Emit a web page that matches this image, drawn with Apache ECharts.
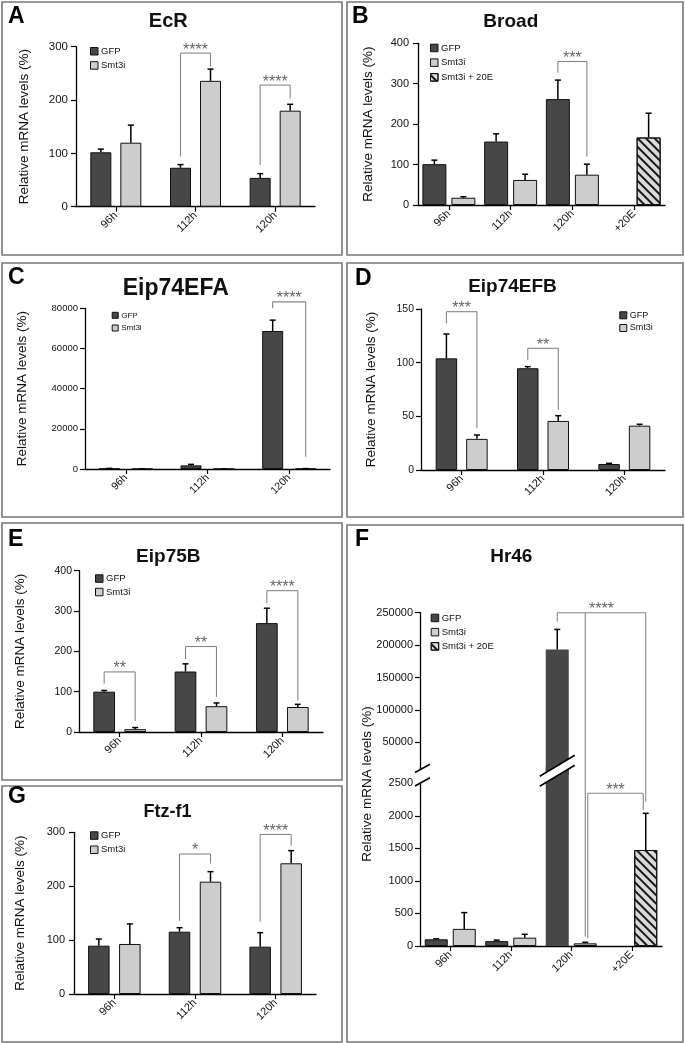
<!DOCTYPE html>
<html><head><meta charset="utf-8">
<script src="https://cdn.jsdelivr.net/npm/echarts@6/dist/echarts.min.js"></script>
<style>html,body{margin:0;padding:0;background:#fff}#c{width:685px;height:1043px}</style>
</head><body><div id="c"></div>
<script>
// ================= DATA =================
const timeCats = ['96h', '112h', '120h'];
const timeCats20E = ['96h', '112h', '120h', '+20E'];

// A  EcR
const ecrTicks = [0, 100, 200, 300];
const ecrGFP = [102, 73, 54];
const ecrGFPErr = [108, 79, 62];
const ecrSmt = [120, 236, 180];
const ecrSmtErr = [153, 258, 192];
const ecrSig = [
  {label: '****', cat: 1, top: 288, legs: [94, 263]},
  {label: '****', cat: 2, top: 228, legs: [78, 203]}
];

// B  Broad
const broadTicks = [0, 100, 200, 300, 400];
const brGFP = [101, 157, 262, null];
const brGFPErr = [111, 176, 309, null];
const brSmt = [18, 62, 75, null];
const brSmtErr = [20.5, 76, 101, null];
const brSmt20E = [null, null, null, 167];
const brSmt20EErr = [null, null, null, 227];
const broadSig = [
  {label: '***', cat: 2, top: 355, legs: [327, 120]}
];

// C  Eip74EFA
const efaTicks = [0, 20000, 40000, 60000, 80000];
const efaGFP = [150, 1800, 68700];
const efaGFPErr = [300, 2300, 74100];
const efaSmt = [60, 50, 120];
const efaSmtErr = [100, 90, 200];
const efaSig = [
  {label: '****', cat: 2, top: 83200, legs: [80000, 6100]}
];

// D  Eip74EFB
const efbTicks = [0, 50, 100, 150];
const efbGFP = [104, 94.8, 5.6];
const efbGFPErr = [126.7, 96.3, 6.2];
const efbSmt = [29, 45.7, 41.3];
const efbSmtErr = [32.6, 50.6, 42.6];
const efbSig = [
  {label: '***', cat: 0, top: 147.5, legs: [136.7, 38.8]},
  {label: '**', cat: 1, top: 113.4, legs: [102.5, 56]}
];

// E  Eip75B
const e75Ticks = [0, 100, 200, 300, 400];
const e75GFP = [100, 150, 270];
const e75GFPErr = [103, 169, 307];
const e75Smt = [7, 64, 62];
const e75SmtErr = [11, 72, 68.6];
const e75Sig = [
  {label: '**', cat: 0, top: 149, legs: [120, 27]},
  {label: '**', cat: 1, top: 212, legs: [181, 87]},
  {label: '****', cat: 2, top: 350.5, legs: [319, 79]}
];

// F  Hr46 (broken axis)
const hrUpperTicks = [50000, 100000, 150000, 200000, 250000];
const hrLowerTicks = [0, 500, 1000, 1500, 2000, 2500];
const hrGFP = [103, 75, 193400, null];
const hrGFPErr = [112, 90, 224200, null];
const hrSmt = [263, 128, 41, null];
const hrSmtErr = [513, 180, 57, null];
const hrSmt20E = [null, null, null, 1475];
const hrSmt20EErr = [null, null, null, 2038];
const hrSig = [
  {label: '****', top: 250000, topAxis: 'up', legs: [
    {cat: 2, slot: 0, to: 236000, axis: 'up'},
    {cat: 2, slot: 1, to: 143, axis: 'lo'},
    {cat: 3, slot: 1, to: 2216, axis: 'lo'}]},
  {label: '***', top: 2346, topAxis: 'lo', legs: [
    {cat: 2, slot: 1, to: 118, axis: 'lo'},
    {cat: 3, slot: 1, to: 2089, axis: 'lo'}]}
];

// G  Ftz-f1
const ftzTicks = [0, 100, 200, 300];
const ftzGFP = [89.6, 115.6, 87.8];
const ftzGFPErr = [102, 123, 113.8];
const ftzSmt = [92.8, 208.4, 242.5];
const ftzSmtErr = [130, 227, 266];
const ftzSig = [
  {label: '*', cat: 1, top: 259.7, legs: [136, 242]},
  {label: '****', cat: 2, top: 296, legs: [134, 275]}
];

const yTitle = 'Relative mRNA levels (%)';

// ================= LAYOUT / STYLE =================
const FONT = "'Liberation Sans', Arial, Helvetica, sans-serif";
const HR_BREAK = 2750; // top of the lower (un-broken) segment of panel F
const FILL = {'GFP': '#474747', 'Smt3i': '#cdcdcd', 'Smt3i + 20E': '#dadada'};
const HATCH = {symbol: 'rect', symbolSize: 1, dashArrayX: [[1, 0]], dashArrayY: [2, 3.5], rotation: Math.PI / 4, color: '#1a1a1a'};
const plainNum = v => String(v);

const LAYOUT = {
  A: {grid: [76, 46.7, 239, 160], bw: 21, gap: 9, nameGap: 45, yFont: 11.5, xFont: 11, yMargin: 8, leg: [90, 50, 11.7], legFont: 9.5, legIcon: 7.5, tFont: 20, tPos: [168.3, 21.5], letter: [8, 16.5], box: [2, 2, 340, 253]},
  B: {grid: [418, 43.3, 247, 161.7], bw: 24, gap: 5, nameGap: 43, yFont: 11, xFont: 11, yMargin: 9, leg: [430, 46.7, 12.2], legFont: 9.5, legIcon: 7.5, tFont: 19, tPos: [510.8, 21.5], letter: [352, 16.5], box: [347, 2, 336, 253]},
  C: {grid: [85, 308.3, 245, 160.7], bw: 21, gap: 12, nameGap: 56, yFont: 9.5, xFont: 10.5, yMargin: 7, leg: [111.7, 314.3, 10.7], legFont: 8, legIcon: 6, tFont: 23, tPos: [175.8, 288.3], letter: [8, 277.5], box: [2, 263, 340, 254]},
  D: {grid: [421, 309, 244, 161], bw: 21.5, gap: 9, nameGap: 42.5, yFont: 10.5, xFont: 11, yMargin: 7, leg: [619.3, 314.3, 10.7], legFont: 9, legIcon: 7, tFont: 19, tPos: [512.5, 286.7], letter: [355, 278.5], box: [347, 263, 336, 254]},
  E: {grid: [79, 570.7, 244, 161.3], bw: 21.7, gap: 9.3, nameGap: 51.5, yFont: 10.5, xFont: 11, yMargin: 7, leg: [95, 577.3, 11], legFont: 9.5, legIcon: 7.5, tFont: 19, tPos: [168.3, 556.7], letter: [8, 540], box: [2, 523, 340, 257]},
  F: {upper: [420, 612.7, 242, 162], lower: [420, 767, 242, 179], bw: 23, gap: 5, yFont: 11, xFont: 11, yMargin: 7, leg: [430.7, 616.7, 11.7], legFont: 9.5, legIcon: 7.5, tFont: 19, tPos: [511.3, 556.7], letter: [355, 540], box: [347, 525, 336, 517], yName: [367, 784]},
  G: {grid: [74, 832.3, 242, 161.7], bw: 21.5, gap: 9.5, nameGap: 46.5, yFont: 11, xFont: 11, yMargin: 9, leg: [90, 834.3, 11.7], legFont: 9.5, legIcon: 7.5, tFont: 18, tPos: [167.5, 812.5], letter: [8, 796.5], box: [2, 786, 340, 256]}
};

const panels = [
  {id: 'A', title: 'EcR', cats: timeCats, ticks: ecrTicks, sig: ecrSig,
   bars: [['GFP', ecrGFP, ecrGFPErr], ['Smt3i', ecrSmt, ecrSmtErr]]},
  {id: 'B', title: 'Broad', cats: timeCats20E, ticks: broadTicks, sig: broadSig,
   bars: [['GFP', brGFP, brGFPErr], ['Smt3i', brSmt, brSmtErr], ['Smt3i + 20E', brSmt20E, brSmt20EErr]]},
  {id: 'C', title: 'Eip74EFA', cats: timeCats, ticks: efaTicks, sig: efaSig,
   bars: [['GFP', efaGFP, efaGFPErr], ['Smt3i', efaSmt, efaSmtErr]]},
  {id: 'D', title: 'Eip74EFB', cats: timeCats, ticks: efbTicks, sig: efbSig,
   bars: [['GFP', efbGFP, efbGFPErr], ['Smt3i', efbSmt, efbSmtErr]]},
  {id: 'E', title: 'Eip75B', cats: timeCats, ticks: e75Ticks, sig: e75Sig,
   bars: [['GFP', e75GFP, e75GFPErr], ['Smt3i', e75Smt, e75SmtErr]]},
  {id: 'F', title: 'Hr46', cats: timeCats20E, sig: hrSig, broken: true,
   bars: [['GFP', hrGFP, hrGFPErr], ['Smt3i', hrSmt, hrSmtErr], ['Smt3i + 20E', hrSmt20E, hrSmt20EErr]]},
  {id: 'G', title: 'Ftz-f1', cats: timeCats, ticks: ftzTicks, sig: ftzSig,
   bars: [['GFP', ftzGFP, ftzGFPErr], ['Smt3i', ftzSmt, ftzSmtErr]]}
];

// ================= BUILD =================
const grids = [], xAxes = [], yAxes = [], series = [], legends = [];
const slotOf = name => name === 'GFP' ? 0 : 1;
const slotOffset = (L, slot) => (slot - 0.5) * (L.bw + L.gap);

function gridCfg(g) {
  return {left: g[0], top: g[1], width: g[2], height: g[3], containLabel: false, outerBoundsMode: 'none'};
}
function xAxisCfg(gi, cats, L, show) {
  return {
    gridIndex: gi, type: 'category', data: cats, show: show, boundaryGap: true,
    axisLine: {show: true, onZero: false, lineStyle: {color: '#000', width: 1.3}},
    axisTick: {show: true, alignWithLabel: true, length: 5, lineStyle: {color: '#000', width: 1.2}},
    axisLabel: {rotate: 45, interval: 0, fontSize: L.xFont, color: '#111', margin: 7, fontFamily: FONT},
    splitLine: {show: false}
  };
}
function yLabel(L, custom) {
  const o = {fontSize: L.yFont, color: '#111', margin: L.yMargin, fontFamily: FONT, formatter: plainNum};
  if (custom) o.customValues = custom;
  return o;
}
function yAxisCfg(gi, L, extra) {
  return Object.assign({
    gridIndex: gi, type: 'value', splitLine: {show: false},
    axisLine: {show: true, lineStyle: {color: '#000', width: 1.3}},
    axisTick: {show: true, length: 5, lineStyle: {color: '#000', width: 1.2}},
    axisLabel: yLabel(L)
  }, extra);
}
function barSeries(gi, name, data, L, stackId) {
  const st = {color: FILL[name], borderColor: '#111', borderWidth: 1};
  if (name === 'Smt3i + 20E') st.decal = HATCH;
  return {
    type: 'bar', name: name, xAxisIndex: gi, yAxisIndex: gi, data: data,
    barWidth: L.bw, barGap: (L.gap / L.bw * 100) + '%',
    stack: slotOf(name) ? stackId : undefined,
    itemStyle: st, emphasis: {disabled: true}, silent: true, clip: true, z: 2
  };
}
function errSeries(gi, vals, errs, L, slot, keep) {
  const data = [];
  vals.forEach((v, i) => {
    if (v != null && errs[i] != null && keep(v)) data.push([i, v, errs[i]]);
  });
  const off = slotOffset(L, slot);
  return {
    type: 'custom', xAxisIndex: gi, yAxisIndex: gi, data: data, silent: true, z: 4, clip: false,
    encode: {x: 0, y: [1, 2]},
    renderItem: function (params, api) {
      const p0 = api.coord([api.value(0), api.value(1)]);
      const p1 = api.coord([api.value(0), api.value(2)]);
      const cx = p0[0] + off;
      const st = {stroke: '#000', lineWidth: 1.5};
      return {type: 'group', children: [
        {type: 'line', shape: {x1: cx, y1: p0[1], x2: cx, y2: p1[1]}, style: st},
        {type: 'line', shape: {x1: cx - 3, y1: p1[1], x2: cx + 3, y2: p1[1]}, style: st}
      ]};
    }
  };
}
function legendCfg(p, L) {
  return {
    data: p.bars.map(b => b[0]), orient: 'vertical', left: L.leg[0], top: L.leg[1] - L.legIcon / 2,
    itemWidth: L.legIcon, itemHeight: L.legIcon, itemGap: L.leg[2] - L.legIcon, padding: 0,
    icon: 'rect', selectedMode: false,
    itemStyle: {borderColor: '#111', borderWidth: 1},
    textStyle: {fontSize: L.legFont, color: '#111', fontFamily: FONT, lineHeight: L.legIcon, padding: [0, 0, 0, -2]}
  };
}

panels.forEach(p => {
  const L = LAYOUT[p.id];
  if (!p.broken) {
    const gi = grids.length;
    p.gi = gi;
    grids.push(gridCfg(L.grid));
    xAxes.push(xAxisCfg(gi, p.cats, L, true));
    yAxes.push(yAxisCfg(gi, L, {
      min: p.ticks[0], max: p.ticks[p.ticks.length - 1], interval: p.ticks[1] - p.ticks[0],
      name: yTitle, nameLocation: 'middle', nameGap: L.nameGap,
      nameTextStyle: {fontSize: 13.5, color: '#111', fontFamily: FONT}
    }));
    p.bars.forEach(([name, vals, errs]) => {
      series.push(barSeries(gi, name, vals, L, 'smt' + p.id));
      series.push(errSeries(gi, vals, errs, L, slotOf(name), () => true));
    });
  } else {
    const gu = grids.length, gl = gu + 1;
    p.giU = gu; p.giL = gl; p.gi = gl;
    grids.push(gridCfg(L.upper));
    grids.push(gridCfg(L.lower));
    xAxes.push(xAxisCfg(gu, p.cats, L, false));
    xAxes.push(xAxisCfg(gl, p.cats, L, true));
    yAxes.push(yAxisCfg(gu, L, {
      min: 0, max: hrUpperTicks[hrUpperTicks.length - 1],
      axisTick: {show: true, length: 5, lineStyle: {color: '#000', width: 1.2}, customValues: hrUpperTicks},
      axisLabel: yLabel(L, hrUpperTicks)
    }));
    yAxes.push(yAxisCfg(gl, L, {
      min: 0, max: HR_BREAK,
      axisTick: {show: true, length: 5, lineStyle: {color: '#000', width: 1.2}, customValues: hrLowerTicks},
      axisLabel: yLabel(L, hrLowerTicks)
    }));
    const isHigh = v => v != null && v > HR_BREAK;
    p.bars.forEach(([name, vals, errs]) => {
      if (name !== 'Smt3i + 20E') {
        const up = vals.map(v => isHigh(v) ? {value: v, itemStyle: {borderWidth: 0}} : null);
        series.push(barSeries(gu, name, up, L, 'smtFu'));
        series.push(errSeries(gu, vals, errs, L, slotOf(name), isHigh));
      }
      const lo = vals.map(v => isHigh(v) ? {value: v, itemStyle: {borderWidth: 0}} : v);
      series.push(barSeries(gl, name, lo, L, 'smtFl'));
      series.push(errSeries(gl, vals, errs, L, slotOf(name), v => !isHigh(v)));
    });
  }
  legends.push(legendCfg(p, L));
});

const chart = echarts.init(document.getElementById('c'), null, {renderer: 'canvas', width: 685, height: 1043});
chart.setOption({
  animation: false,
  backgroundColor: '#fff',
  textStyle: {fontFamily: FONT},
  grid: grids, xAxis: xAxes, yAxis: yAxes, legend: legends, series: series
});

// ================= ANNOTATIONS (via the chart's own scales) =================
function toPx(gi, cat, val) {
  return chart.convertToPixel({xAxisIndex: gi, yAxisIndex: gi}, [cat, val]);
}
const gfx = [];
panels.forEach(p => {
  const L = LAYOUT[p.id];
  const b = L.box;
  gfx.push({type: 'rect', shape: {x: b[0], y: b[1], width: b[2], height: b[3]},
            style: {fill: 'none', stroke: '#777', lineWidth: 1.6}, z: 1, silent: true});
  gfx.push({type: 'text', x: L.letter[0], y: L.letter[1], z: 10, silent: true,
            style: {text: p.id, font: 'bold 23px ' + FONT, fill: '#000', textAlign: 'left', textVerticalAlign: 'middle'}});
  gfx.push({type: 'text', x: L.tPos[0], y: L.tPos[1], z: 10, silent: true,
            style: {text: p.title, font: 'bold ' + L.tFont + 'px ' + FONT, fill: '#111', textAlign: 'center', textVerticalAlign: 'middle'}});
  if (L.yName) {
    gfx.push({type: 'text', x: L.yName[0], y: L.yName[1], rotation: Math.PI / 2, z: 10, silent: true,
              style: {text: yTitle, font: '13.5px ' + FONT, fill: '#111', textAlign: 'center', textVerticalAlign: 'middle'}});
  }

  // significance brackets
  const axisGi = tag => tag === 'up' ? p.giU : (tag === 'lo' ? p.giL : p.gi);
  const used = [];
  p.sig.forEach(s => {
    const spec = s.legs.length && typeof s.legs[0] === 'number'
      ? {label: s.label, top: s.top, legs: [{cat: s.cat, slot: 0, to: s.legs[0]}, {cat: s.cat, slot: 1, to: s.legs[1]}]}
      : s;
    const raw = spec.legs.map(l => {
      const gi = axisGi(l.axis);
      const pt = toPx(gi, l.cat, l.to);
      return {x: pt[0] + slotOffset(L, l.slot), y: pt[1]};
    });
    const mid = (raw[0].x + raw[raw.length - 1].x) / 2;
    raw.forEach(r => {
      if (used.some(u => Math.abs(u - r.x) < 1.5)) r.x += (r.x < mid ? 2.5 : -2.5);
    });
    raw.forEach(r => used.push(r.x));
    const ty = toPx(axisGi(spec.topAxis), 0, spec.top)[1];
    const ls = {stroke: '#858585', lineWidth: 1.1};
    const x0 = raw[0].x, x1 = raw[raw.length - 1].x;
    gfx.push({type: 'line', shape: {x1: x0, y1: ty, x2: x1, y2: ty}, style: ls, z: 20, silent: true});
    raw.forEach(r => gfx.push({type: 'line', shape: {x1: r.x, y1: ty, x2: r.x, y2: r.y}, style: ls, z: 20, silent: true}));
    gfx.push({type: 'text', x: (x0 + x1) / 2, y: ty - 3, z: 20, silent: true,
              style: {text: spec.label, font: '16px ' + FONT, fill: '#666', textAlign: 'center', textVerticalAlign: 'middle'}});
  });

  // broken-axis marks (panel F)
  if (p.broken) {
    const yb = toPx(p.giU, 0, 0)[1];                          // bottom of upper segment
    const yTopLow = toPx(p.giL, 0, hrLowerTicks[hrLowerTicks.length - 1])[1];
    const ax = L.lower[0];
    const brk = (xl, xr, yc1, yc2, xc, s) => {
      const f = x => (xc - x) * s;
      gfx.push({type: 'polygon', z: 30, silent: true,
        shape: {points: [[xl, yc1 + f(xl)], [xr, yc1 + f(xr)], [xr, yc2 + f(xr)], [xl, yc2 + f(xl)]]},
        style: {fill: '#fff', stroke: null}});
      [yc1, yc2].forEach(yc => gfx.push({type: 'line', z: 31, silent: true,
        shape: {x1: xl, y1: yc + f(xl), x2: xr, y2: yc + f(xr)}, style: {stroke: '#000', lineWidth: 1.6}}));
    };
    brk(ax - 5, ax + 10, yb - 5, yTopLow, ax, 0.55);
    p.bars.forEach(([name, vals]) => {
      vals.forEach((v, i) => {
        if (v != null && v > HR_BREAK) {
          const cx = toPx(p.giU, i, 0)[0] + slotOffset(L, slotOf(name));
          brk(cx - L.bw / 2 - 6, cx + L.bw / 2 + 6, yb - 9, yb + 1, cx, 0.6);
        }
      });
    });
  }
});
chart.setOption({graphic: {elements: gfx}});
</script>
</body></html>
